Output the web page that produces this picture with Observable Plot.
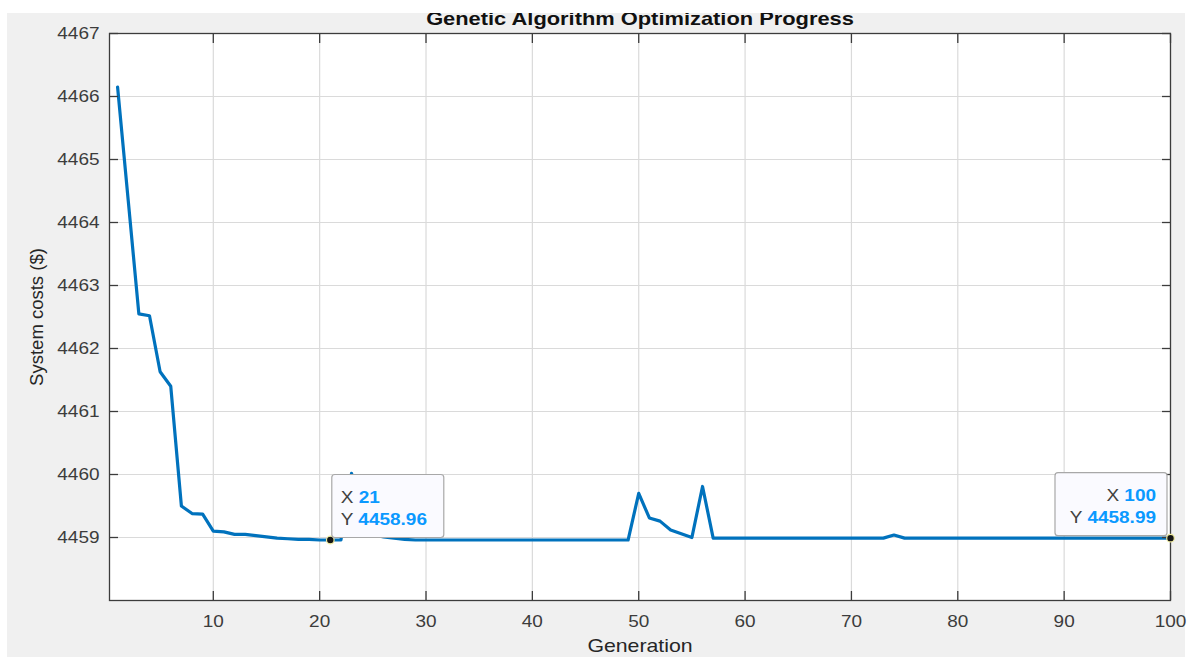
<!DOCTYPE html>
<html>
<head>
<meta charset="utf-8">
<script src="https://cdn.jsdelivr.net/npm/d3@7"></script>
<script src="https://cdn.jsdelivr.net/npm/@observablehq/plot@0.6"></script>
<style>
  html, body { margin: 0; padding: 0; background: #ffffff; }
  #panel { position: absolute; left: 7px; top: 13px; width: 1178px; height: 644px; background: #f0f0f0; }
  #chart { position: absolute; left: 0; top: 0; }
  #topband { position: absolute; left: 0; top: 0; width: 1189px; height: 13px; background: #ffffff; }
</style>
</head>
<body>
<div id="panel"></div>
<div id="chart"></div>
<div id="topband"></div>
<script>
// Best system cost found in each generation (generations 1..100)
const costs = [
  4466.15, 4464.35, 4462.55, 4462.52, 4461.63, 4461.40, 4459.50, 4459.38, 4459.37, 4459.10,
  4459.09, 4459.05, 4459.05, 4459.03, 4459.01, 4458.99, 4458.98, 4458.97, 4458.97, 4458.96,
  4458.96, 4458.96, 4460.02, 4459.15, 4459.05, 4459.01, 4458.99, 4458.97, 4458.96, 4458.96,
  4458.96, 4458.96, 4458.96, 4458.96, 4458.96, 4458.96, 4458.96, 4458.96, 4458.96, 4458.96,
  4458.96, 4458.96, 4458.96, 4458.96, 4458.96, 4458.96, 4458.96, 4458.96, 4458.96, 4459.70,
  4459.31, 4459.26, 4459.12, 4459.06, 4459.00, 4459.81, 4458.99, 4458.99, 4458.99, 4458.99,
  4458.99, 4458.99, 4458.99, 4458.99, 4458.99, 4458.99, 4458.99, 4458.99, 4458.99, 4458.99,
  4458.99, 4458.99, 4458.99, 4459.04, 4458.99, 4458.99, 4458.99, 4458.99, 4458.99, 4458.99,
  4458.99, 4458.99, 4458.99, 4458.99, 4458.99, 4458.99, 4458.99, 4458.99, 4458.99, 4458.99,
  4458.99, 4458.99, 4458.99, 4458.99, 4458.99, 4458.99, 4458.99, 4458.99, 4458.99, 4458.99
];

const xTicks = [10, 20, 30, 40, 50, 60, 70, 80, 90, 100];
const yTicks = [4459, 4460, 4461, 4462, 4463, 4464, 4465, 4466, 4467];

// Data tips pinned on the curve
const tipGenerations = [21, 100];
const tipCosts = [4458.96, 4458.99];
const tipSides = ["right", "left"];

const titleText = "Genetic Algorithm Optimization Progress";
const xLabel = "Generation";
const yLabel = "System costs ($)";

const series = costs.map((c, i) => ({generation: i + 1, cost: c}));
const tips = tipGenerations.map((g, i) => ({generation: g, cost: tipCosts[i], side: tipSides[i]}));

const axisColor = "#3c3c3c";

const chart = Plot.plot({
  width: 1189,
  height: 657,
  marginLeft: 109,
  marginRight: 19,
  marginTop: 33,
  marginBottom: 57,
  style: {background: "transparent", fontFamily: "'Liberation Sans', Arial, sans-serif", color: axisColor, overflow: "visible"},
  x: {domain: [0.24, 100]},
  y: {domain: [4458, 4467]},
  marks: [
    Plot.frame({fill: "#ffffff"}),
    Plot.gridX(xTicks, {stroke: "#dadada", strokeOpacity: 1, strokeWidth: 1.2}),
    Plot.gridY(yTicks, {stroke: "#dadada", strokeOpacity: 1, strokeWidth: 1.2}),
    Plot.line(series, {x: "generation", y: "cost", stroke: "#0072BD", strokeWidth: 3.2, strokeLinejoin: "round"}),
    Plot.frame({stroke: axisColor, strokeWidth: 1.3}),
    Plot.axisX(xTicks, {anchor: "bottom", tickSize: -9, tickPadding: 24, fontSize: 16.5, label: null, stroke: axisColor, strokeWidth: 1.3, fill: axisColor}),
    Plot.axisX(xTicks, {anchor: "top", tickSize: -9, tickFormat: () => "", label: null, stroke: axisColor, strokeWidth: 1.3}),
    Plot.axisY(yTicks, {anchor: "left", tickSize: -9, tickPadding: 19, fontSize: 16.5, label: null, stroke: axisColor, strokeWidth: 1.3, fill: axisColor, tickFormat: d => String(d)}),
    Plot.axisY(yTicks, {anchor: "right", tickSize: -9, tickFormat: () => "", label: null, stroke: axisColor, strokeWidth: 1.3}),
    Plot.text([titleText], {frameAnchor: "top", lineAnchor: "bottom", textAnchor: "middle", dy: -9, fontWeight: "bold", fontSize: 19, fill: "#111111"}),
    Plot.text([xLabel], {frameAnchor: "bottom", lineAnchor: "middle", textAnchor: "middle", dy: 46, fontSize: 18.5, fill: "#262626"}),
    Plot.text([yLabel], {frameAnchor: "left", lineAnchor: "middle", textAnchor: "middle", dx: -72, rotate: -90, fontSize: 18.5, fill: "#262626"}),
    Plot.dot(tips, {x: "generation", y: "cost", r: 3.8, fill: "#151515", stroke: "#f2eea0", strokeWidth: 1.2})
  ]
});

document.getElementById("chart").appendChild(chart);

// Data tip boxes, positioned through the chart's own scales
const sx = chart.scale("x");
const sy = chart.scale("y");
const svg = d3.select(chart);
const tipLayer = svg.append("g").attr("class", "datatips");
for (const t of tips) {
  const px = sx.apply(t.generation);
  const py = sy.apply(t.cost);
  const w = 112, h = 63;
  const left = t.side === "right" ? px + 2 : px - 3 - w;
  const top = py - 2 - h;
  const g = tipLayer.append("g");
  g.append("rect")
    .attr("x", left).attr("y", top).attr("width", w).attr("height", h)
    .attr("rx", 3).attr("fill", "#fafaff").attr("stroke", "#a8a8a8").attr("stroke-width", 1.2);
  const rows = [["X", String(t.generation)], ["Y", t.cost.toFixed(2)]];
  rows.forEach(([k, v], j) => {
    const txt = g.append("text")
      .attr("y", top + 28 + j * 22)
      .attr("font-family", "'Liberation Sans', Arial, sans-serif")
      .attr("font-size", 16.5);
    if (t.side === "right") {
      txt.attr("x", left + 9).attr("text-anchor", "start");
    } else {
      txt.attr("x", left + w - 11).attr("text-anchor", "end");
    }
    txt.append("tspan").attr("fill", "#404040").text(k + " ");
    txt.append("tspan").attr("fill", "#0a99ff").attr("font-weight", "bold").text(v);
  });
}

// Widen horizontal lettering slightly, as in the original figure export
svg.selectAll("text").each(function() {
  const tr = this.getAttribute("transform") || "";
  if (tr.includes("rotate")) return;
  const len = this.getComputedTextLength();
  if (!len) return;
  this.setAttribute("textLength", (len * 1.15).toFixed(2));
  this.setAttribute("lengthAdjust", "spacingAndGlyphs");
});
</script>
</body>
</html>
